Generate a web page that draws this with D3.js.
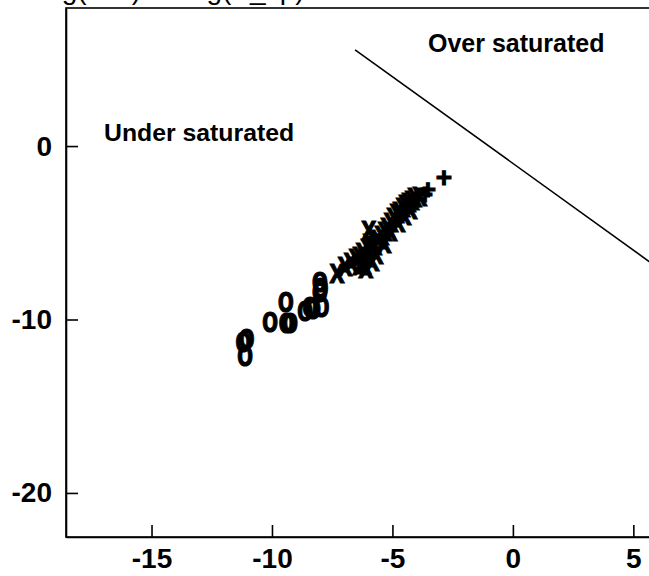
<!DOCTYPE html>
<html>
<head>
<meta charset="utf-8">
<script src="https://cdn.jsdelivr.net/npm/d3@7"></script>
<style>
  body { margin: 0; background: #fff; }
  text { font-family: "Liberation Sans", Arial, Helvetica, sans-serif; font-weight: bold; }
</style>
</head>
<body>
<div id="chart"></div>
<script>
/* data */
var circlePts = [
  [-11.19, -11.29], [-11.05, -11.10], [-11.12, -12.12], [-10.08, -10.14],
  [-9.42, -9.02], [-9.39, -10.20], [-9.25, -10.23], [-8.63, -9.50],
  [-8.42, -9.27], [-8.29, -9.37], [-7.94, -9.27], [-8.01, -7.83],
  [-7.98, -8.21], [-8.01, -8.41]
];
var crossPts = [
  [-7.30, -7.33], [-6.97, -6.98], [-6.72, -6.75], [-6.51, -6.52], [-6.35, -6.35],
  [-6.22, -6.12], [-6.10, -6.46], [-6.18, -6.81], [-6.10, -7.04], [-6.35, -6.92],
  [-6.02, -5.89], [-5.93, -5.60], [-5.98, -4.85], [-5.85, -6.00], [-5.73, -5.77],
  [-5.60, -5.42], [-5.44, -5.19], [-5.31, -4.96], [-5.19, -4.73], [-5.06, -4.39],
  [-5.10, -4.96], [-4.94, -4.15], [-4.81, -3.92], [-4.69, -3.81], [-4.56, -3.58],
  [-4.44, -3.40], [-4.32, -3.29], [-4.19, -3.12], [-4.07, -3.00], [-3.86, -2.89],
  [-4.27, -3.69], [-4.52, -4.04], [-4.77, -4.39], [-5.35, -5.65], [-5.68, -6.29],
  [-5.85, -6.69]
];
var plusPts = [
  [-2.86, -1.85], [-3.65, -2.83], [-3.94, -3.12], [-3.53, -2.54]
];
var satLine = [[-6.55, 5.55], [9, -10]];
var xTicks = [-15, -10, -5, 0, 5];
var yTicks = [0, -10, -20];
var titleText = "log(IAP) vs log(K_sp)";

var W = 649, H = 576;
var margin = { top: 8, left: 66, bottom: 39 };

var svg = d3.select("#chart")
            .append("svg")
            .attr("width", W)
            .attr("height", H);

var x = d3.scaleLinear().domain([-18.55, 5.65]).range([margin.left, W]);
var y = d3.scaleLinear().domain([-22.54, 7.96]).range([H - margin.bottom, margin.top]);

// title, mostly above the window
svg.append("text")
   .attr("x", 40)
   .attr("y", -1)
   .style("font-size", "28px")
   .style("font-weight", "normal")
   .text(titleText);

// frame (right side falls outside the window)
svg.append("rect")
   .attr("x", margin.left)
   .attr("y", margin.top)
   .attr("width", 800)
   .attr("height", y.range()[0] - margin.top)
   .style("fill", "none")
   .style("stroke", "#000")
   .style("stroke-width", 1.6);

var plain = function (d) { return String(d); };  // hyphen minus, as in the picture
var xAxis = svg.append("g")
   .attr("transform", "translate(0," + y.range()[0] + ")")
   .call(d3.axisBottom(x).tickValues(xTicks).tickFormat(plain)
           .tickSizeInner(-12).tickSizeOuter(0).tickPadding(11));
var yAxis = svg.append("g")
   .attr("transform", "translate(" + margin.left + ",0)")
   .call(d3.axisLeft(y).tickValues(yTicks).tickFormat(plain)
           .tickSizeInner(-12).tickSizeOuter(0).tickPadding(14));

[xAxis, yAxis].forEach(function (a) {
  a.select(".domain").style("stroke-width", 1.6);
  a.selectAll(".tick line").style("stroke-width", 1.6);
  a.selectAll(".tick text")
   .style("font-size", "28px")
   .style("font-family", '"Liberation Sans", Arial, sans-serif')
   .style("font-weight", "bold")
   .style("fill", "#000");
});

// saturation line
svg.append("line")
   .attr("x1", x(satLine[0][0])).attr("y1", y(satLine[0][1]))
   .attr("x2", x(satLine[1][0])).attr("y2", y(satLine[1][1]))
   .style("stroke", "#000")
   .style("stroke-width", 1.6);

svg.append("text").attr("x", 104).attr("y", 141).style("font-size", "24.8px").text("Under saturated");
svg.append("text").attr("x", 428).attr("y", 52).style("font-size", "25px").text("Over saturated");

/* markers are drawn as glyphs */
function glyphs(pts, ch, size, dy, sx, sy) {
  svg.append("g").selectAll()
     .data(pts)
     .enter()
     .append("text")
     .attr("transform", function (d) {
       return "translate(" + x(d[0]) + "," + y(d[1]) + ") scale(" + sx + "," + sy + ")";
     })
     .attr("text-anchor", "middle")
     .attr("dy", dy)
     .style("font-size", size + "px")
     .style("stroke", "#000")
     .style("stroke-width", 1)
     .text(ch);
}
glyphs(circlePts, "o", 34, "0.27em", 0.78, 1.08);
glyphs(crossPts, "x", 32, "0.27em", 0.85, 1.08);
glyphs(plusPts, "+", 28, "0.33em", 1, 1);
</script>
</body>
</html>
